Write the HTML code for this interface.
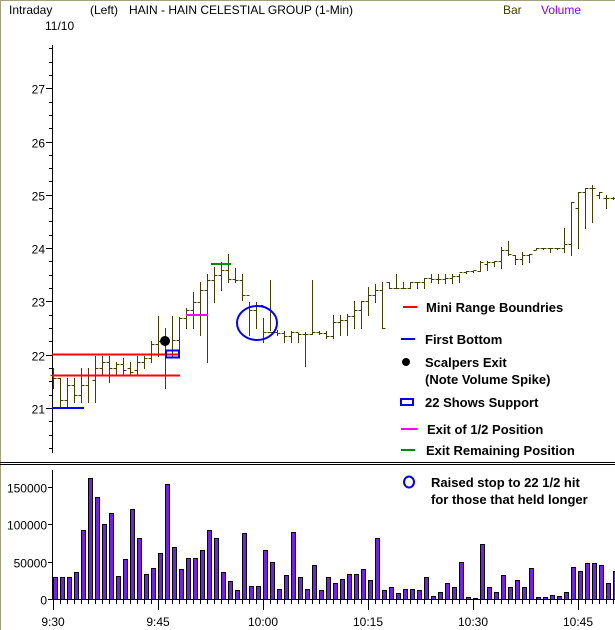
<!DOCTYPE html>
<html><head><meta charset="utf-8"><style>
body{margin:0;background:#fff;}
svg{display:block;font-family:"Liberation Sans",sans-serif;}
.b{font-weight:bold;font-size:13px;}
</style></head><body>
<svg id="s" width="615" height="630" xmlns="http://www.w3.org/2000/svg">
<rect x="0" y="0" width="615" height="630" fill="#fff"/>
<line x1="0.5" y1="0" x2="0.5" y2="630" stroke="#a0a080" stroke-width="1"/>
<line x1="0" y1="0.5" x2="615" y2="0.5" stroke="#a0a080" stroke-width="1"/>
<g font-size="12" fill="#000">
<text x="9" y="14">Intraday</text>
<text x="90" y="14">(Left)</text>
<text x="129" y="14">HAIN - HAIN CELESTIAL GROUP  (1-Min)</text>
<text x="503" y="14" fill="#404000">Bar</text>
<text x="541" y="14" fill="#8000ff">Volume</text>
<text x="45" y="30">11/10</text>
</g>
<line x1="0" y1="462.5" x2="615" y2="462.5" stroke="#000"/>
<line x1="0" y1="464.5" x2="615" y2="464.5" stroke="#000"/>
<g id="g"></g>
<!-- annotations -->
<line x1="52" y1="354.5" x2="180" y2="354.5" stroke="#f00" stroke-width="2"/>
<line x1="52" y1="375.5" x2="180" y2="375.5" stroke="#f00" stroke-width="2"/>
<line x1="52" y1="408" x2="84" y2="408" stroke="#00f" stroke-width="2"/>
<rect x="166" y="350.5" width="13" height="7" fill="none" stroke="#00f" stroke-width="2"/>
<line x1="186" y1="315" x2="208" y2="315" stroke="#f0f" stroke-width="2"/>
<line x1="211" y1="264" x2="231" y2="264" stroke="#080" stroke-width="2"/>
<ellipse cx="257" cy="323" rx="20" ry="17" fill="none" stroke="#00f" stroke-width="2"/>
<circle cx="165" cy="341" r="5" fill="#000"/>
<!-- legend -->
<line x1="403" y1="307" x2="417" y2="307" stroke="#f00" stroke-width="2"/>
<text class="b" x="426" y="312">Mini Range Boundries</text>
<line x1="401" y1="339" x2="415" y2="339" stroke="#00f" stroke-width="2"/>
<text class="b" x="425" y="344">First Bottom</text>
<circle cx="406" cy="362" r="4" fill="#000"/>
<text class="b" x="425" y="367">Scalpers Exit</text>
<text class="b" x="425" y="384">(Note Volume Spike)</text>
<rect x="401" y="399" width="12" height="6" fill="none" stroke="#00f" stroke-width="2"/>
<text class="b" x="425" y="407">22 Shows Support</text>
<line x1="401" y1="429" x2="417" y2="429" stroke="#f0f" stroke-width="2"/>
<text class="b" x="427" y="434">Exit of 1/2 Position</text>
<line x1="401" y1="450" x2="415" y2="450" stroke="#080" stroke-width="2"/>
<text class="b" x="426" y="455">Exit Remaining Position</text>
<ellipse cx="409" cy="482" rx="5" ry="5.5" fill="none" stroke="#00f" stroke-width="2"/>
<text class="b" x="431" y="487">Raised stop to 22 1/2 hit</text>
<text class="b" x="431" y="504">for those that held longer</text>
</svg>
<script>
var NS="http://www.w3.org/2000/svg",g=document.getElementById("g"),h="";
function L(x1,y1,x2,y2,c,w){h+='<line x1="'+x1+'" y1="'+y1+'" x2="'+x2+'" y2="'+y2+'" stroke="'+(c||"#000")+'" stroke-width="'+(w||1)+'"/>';}
function T(x,y,t,a){h+='<text x="'+x+'" y="'+y+'" font-size="12" text-anchor="'+(a||"end")+'">'+t+'</text>';}
// price axis
L(52.5,45,52.5,453);
for(var p=20.25;p<=27.75;p+=0.25){var y=Math.round(408-(p-21)*53.3)+0.5;if(y<45||y>453)continue;var maj=Math.abs(p-Math.round(p))<0.01;L(maj?46:49,y,52.5,y);if(maj)T(45,y+5,Math.round(p));}
// price bars: [hi,lo,open,close]
var P=[[368,388,375,378],[378,407,378,400],[378,407,400,385],[378,402,385,395],[368,402,395,385],[368,402,385,375],[356,402,380,368],[356,375,368,362],[356,382,362,368],[362,375,368,364],[358,375,364,370],[362,375,368,372],[356,375,370,362],[356,368,362,358],[341,362,358,344],[316,356,344,341],[328,388,341,350],[316,356,350,340],[317,350,340,318],[308,328,318,310],[292,328,310,302],[282,335,302,290],[274,362,290,280],[267,302,280,275],[262,290,275,270],[254,282,270,279],[268,282,279,280],[274,300,280,295],[302,335,295,310],[302,328,310,305],[318,342,305,332],[280,330,332,332],[330,335,332,333],[331,342,333,336],[331,342,336,332],[333,342,332,334],[332,366,334,334],[280,334,334,332],[331,334,332,333],[331,338,333,336],[315,338,336,322],[315,335,322,320],[314,335,320,316],[301,328,316,310],[301,328,310,301],[287,315,301,295],[284,302,295,290],[282,328,290,328],[282,288,282,288],[274,288,288,288],[282,288,288,288],[282,288,288,282],[282,288,282,282],[278,288,282,278],[274,282,278,279],[274,283,279,279],[274,283,279,278],[274,283,278,276],[274,282,276,272],[271,273,272,271],[271,272,271,270],[261,271,271,262],[261,270,264,262],[261,266,262,261],[247,268,261,250],[241,255,250,254],[255,264,255,259],[252,264,259,255],[254,262,255,254],[248,249,250,248],[248,249,248,248],[248,252,248,248],[248,249,248,248],[228,252,248,244],[202,255,244,202],[192,248,208,192],[188,228,192,188],[185,222,188,188],[192,198,195,192],[195,208,198,198],[197,199,198,198]];
for(var i=0;i<P.length;i++){var x=53+7*i+0.5,b=P[i],c="#404000";L(x,b[0],x,b[1]+1,c);L(x-3,b[2]+0.5,x,b[2]+0.5,c);L(x,b[3]+0.5,x+3,b[3]+0.5,c);}
// volume
var V=[30,30,29,36,92,162,137,101,115,31,54,120,82,34,41,62,154,70,40,55,55,66,93,81,36,24,12,88,18,17,66,50,13,32,90,29,14,46,12,29,21,27,33,34,40,25,81,12,16,8,13,14,12,30,4,10,22,16,49,3,2,74,16,9,32,16,26,16,41,3,3,5,4,10,43,37,48,48,45,21,37];
for(var i=0;i<V.length;i++){var x=53+7*i,hh=Math.round(V[i]*0.747);h+='<rect x="'+(x+0.5)+'" y="'+(599-hh+0.5)+'" width="4" height="'+hh+'" fill="#7020f0" stroke="#000" stroke-width="1"/>';}
L(52.5,470,52.5,600);L(52,599.5,615,599.5);
[[0,"0"],[50,"50000"],[100,"100000"],[150,"150000"]].forEach(function(v){var y=Math.round(599-v[0]*0.747)+0.5;L(48,y,52.5,y);T(47,y+5,v[1]);});
for(var i=0;i<81;i++){var x=53+7*i+0.5,maj=i%15==0;L(x,600,x,maj?610:604);}
["9:30","9:45","10:00","10:15","10:30","10:45"].forEach(function(t,k){T(53+105*k,626,t,"middle");});
g.innerHTML=h;
</script>
</body></html>
